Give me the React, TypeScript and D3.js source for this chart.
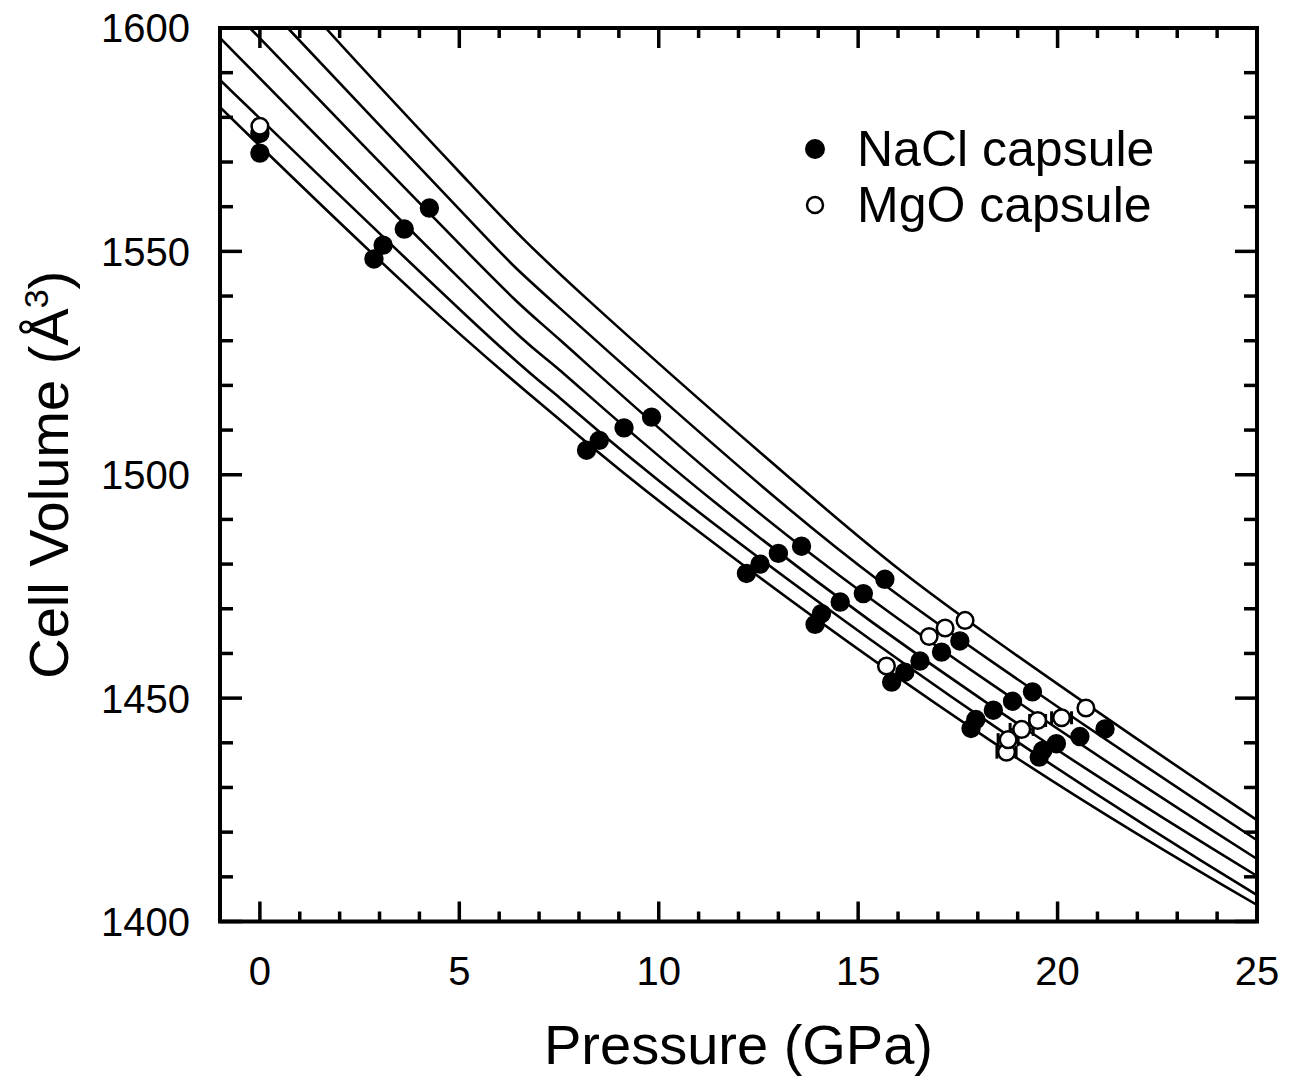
import React from 'react';
import * as d3 from 'd3';

// ---- data ----
const pressureDomain: [number, number] = [-1, 25];
const volumeDomain: [number, number] = [1400, 1600];
const xMajorTicks = [0, 5, 10, 15, 20, 25];
const xMinorTicks = [1, 2, 3, 4, 6, 7, 8, 9, 11, 12, 13, 14, 16, 17, 18, 19, 21, 22, 23, 24];
const yMajorTicks = [1400, 1450, 1500, 1550, 1600];
const yMinorTicks = [1410, 1420, 1430, 1440, 1460, 1470, 1480, 1490, 1510, 1520, 1530, 1540, 1560, 1570, 1580, 1590];

const naclPressure = [0.0, 0.0, 2.86, 3.09, 3.62, 4.25, 8.19, 8.51, 9.13, 9.82, 12.2, 12.54, 13.0, 13.58, 13.92, 14.08, 14.55, 15.13, 15.67, 15.84, 16.17, 16.55, 17.09, 17.55, 17.83, 17.95, 18.39, 18.87, 19.37, 19.54, 19.63, 19.97, 20.56, 21.19];
const naclVolume = [1572.0, 1576.4, 1548.3, 1551.4, 1555.0, 1559.7, 1505.5, 1507.7, 1510.5, 1512.9, 1477.9, 1480.0, 1482.4, 1484.0, 1466.5, 1468.9, 1471.5, 1473.4, 1476.6, 1453.6, 1455.8, 1458.3, 1460.3, 1462.8, 1443.2, 1445.2, 1447.3, 1449.3, 1451.4, 1436.8, 1438.3, 1439.8, 1441.4, 1443.1];

const mgoPressure = [0.0, 15.71, 16.78, 17.18, 17.68, 18.72, 18.76, 19.1, 19.5, 20.1, 20.71];
const mgoVolume = [1578.0, 1457.2, 1463.8, 1465.7, 1467.4, 1437.9, 1440.7, 1443.0, 1445.0, 1445.6, 1447.8];
const mgoPressureErr = [0, 0, 0, 0, 0, 0.24, 0.25, 0.29, 0.2, 0.25, 0];

// fitted isotherms: [pressure, volume]
// (first and last points lie just outside the frame and are clipped)
const isotherm1: [number, number][] = [[-2, 1591.3], [-1, 1582.3], [4.01, 1539.6], [7.52, 1512.3], [10.78, 1488.8], [18.3, 1440.6], [25, 1403.7], [27, 1393.7]];
const isotherm2: [number, number][] = [[-2, 1597.4], [-1, 1588.4], [5.18, 1535.6], [7.52, 1517.2], [10.78, 1493.2], [18.3, 1444.4], [25, 1405.9], [27, 1395.4]];
const isotherm3: [number, number][] = [[-2, 1607.5], [-1, 1597.8], [5.27, 1541.6], [7.52, 1523.4], [11.33, 1494.4], [18.3, 1448.5], [25, 1410.2], [27, 1399.8]];
const isotherm4: [number, number][] = [[-1, 1607.4], [-0.25, 1600], [5.27, 1549.2], [7.52, 1530.2], [12.11, 1494.4], [18.3, 1453.4], [25, 1414.0], [27, 1403.2]];
const isotherm5: [number, number][] = [[-1, 1617.0], [0.7, 1600], [5.27, 1556.9], [7.52, 1537.3], [12.99, 1494.4], [18.3, 1458.5], [25, 1418.2], [27, 1407.2]];
const isotherm6: [number, number][] = [[-1, 1627.5], [1.65, 1600], [5.27, 1565.2], [8.22, 1539.2], [13.92, 1494.4], [18.43, 1463.0], [25, 1422.7], [27, 1411.5]];
const isotherms = [isotherm1, isotherm2, isotherm3, isotherm4, isotherm5, isotherm6];

const legendLabels = ['NaCl capsule', 'MgO capsule'];

// ---- layout ----
const W = 1300, H = 1079;
const left = 220, right = 1257, top = 28, bottom = 921.5;
const FONT = '"Liberation Sans", Arial, Helvetica, sans-serif';

export default function App() {
  const x = d3.scaleLinear().domain(pressureDomain).range([left, right]);
  const y = d3.scaleLinear().domain(volumeDomain).range([bottom, top]);
  const line = d3.line<[number, number]>().x(d => x(d[0])).y(d => y(d[1])).curve(d3.curveNatural);

  const majX = 20, minX = 10, majY = 22, minY = 13;
  const tickW = 3.5;

  return (
    <div style={{ position: 'absolute', left: 0, top: 0 }}>
      <svg width={W} height={H} style={{ display: 'block', background: '#fff' }} fontFamily={FONT}>
        <defs>
          <clipPath id="plotclip">
            <rect x={left} y={top} width={right - left} height={bottom - top} />
          </clipPath>
        </defs>
        <rect x={0} y={0} width={W} height={H} fill="#fff" />

        {/* isotherms */}
        <g clipPath="url(#plotclip)">
          {isotherms.map((c, i) => (
            <path key={i} d={line(c) || ''} fill="none" stroke="#000" strokeWidth={2.6} />
          ))}
        </g>

        {/* error bars */}
        <g stroke="#000" strokeWidth={2.5}>
          {mgoPressure.map((p, i) => mgoPressureErr[i] > 0 ? (
            <g key={i}>
              <line x1={x(p - mgoPressureErr[i])} x2={x(p + mgoPressureErr[i])} y1={y(mgoVolume[i])} y2={y(mgoVolume[i])} />
              <line x1={x(p - mgoPressureErr[i])} x2={x(p - mgoPressureErr[i])} y1={y(mgoVolume[i]) - 6.5} y2={y(mgoVolume[i]) + 6.5} strokeWidth={3} />
              <line x1={x(p + mgoPressureErr[i])} x2={x(p + mgoPressureErr[i])} y1={y(mgoVolume[i]) - 6.5} y2={y(mgoVolume[i]) + 6.5} strokeWidth={3} />
            </g>
          ) : null)}
        </g>

        {/* NaCl points */}
        {naclPressure.map((p, i) => (
          <circle key={'n' + i} cx={x(p)} cy={y(naclVolume[i])} r={8.7} fill="#000" stroke="#000" strokeWidth={2} />
        ))}
        {/* MgO points */}
        {mgoPressure.map((p, i) => (
          <circle key={'m' + i} cx={x(p)} cy={y(mgoVolume[i])} r={8.3} fill="#fff" stroke="#000" strokeWidth={2.5} />
        ))}

        {/* ticks */}
        <g stroke="#000" strokeWidth={tickW}>
          {xMajorTicks.map(t => (
            <g key={'xM' + t}>
              <line x1={x(t)} x2={x(t)} y1={bottom} y2={bottom - majX} />
              <line x1={x(t)} x2={x(t)} y1={top} y2={top + majX} />
            </g>
          ))}
          {xMinorTicks.map(t => (
            <g key={'xm' + t}>
              <line x1={x(t)} x2={x(t)} y1={bottom} y2={bottom - minX} />
              <line x1={x(t)} x2={x(t)} y1={top} y2={top + minX} />
            </g>
          ))}
          {yMajorTicks.map(t => (
            <g key={'yM' + t}>
              <line x1={left} x2={left + majY} y1={y(t)} y2={y(t)} />
              <line x1={right} x2={right - majY} y1={y(t)} y2={y(t)} />
            </g>
          ))}
          {yMinorTicks.map(t => (
            <g key={'ym' + t}>
              <line x1={left} x2={left + minY} y1={y(t)} y2={y(t)} />
              <line x1={right} x2={right - minY} y1={y(t)} y2={y(t)} />
            </g>
          ))}
        </g>

        {/* frame */}
        <rect x={left} y={top} width={right - left} height={bottom - top} fill="none" stroke="#000" strokeWidth={4} />

        {/* tick labels */}
        {xMajorTicks.map(t => (
          <text key={'xl' + t} x={x(t)} y={985} textAnchor="middle" fontSize={40} fill="#000">{t}</text>
        ))}
        {yMajorTicks.map(t => (
          <text key={'yl' + t} x={190} y={y(t)} dy="0.36em" textAnchor="end" fontSize={40} fill="#000">{t}</text>
        ))}

        {/* axis titles */}
        <text x={(left + right) / 2} y={1064} textAnchor="middle" fontSize={56} fill="#000">Pressure (GPa)</text>
        <text transform={`translate(68, ${(top + bottom) / 2}) rotate(-90)`} textAnchor="middle" fontSize={56} fill="#000">
          Cell Volume (Å<tspan fontSize={34} dy={-20}>3</tspan><tspan dy={20}>)</tspan>
        </text>

        {/* legend */}
        <circle cx={815} cy={149} r={9} fill="#000" stroke="#000" strokeWidth={2} />
        <text x={857} y={166} fontSize={50} fill="#000">{legendLabels[0]}</text>
        <circle cx={815} cy={205} r={8} fill="#fff" stroke="#000" strokeWidth={2.5} />
        <text x={857} y={222} fontSize={50} fill="#000">{legendLabels[1]}</text>
      </svg>
    </div>
  );
}
